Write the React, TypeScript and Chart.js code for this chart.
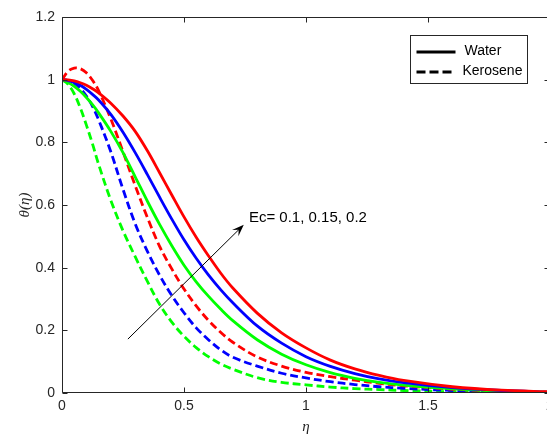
import React, { useEffect, useRef } from "react";
import { Chart, registerables } from "chart.js";

Chart.register(...registerables);

// ---- data ----
const eta = [0, 0.025, 0.05, 0.075, 0.1, 0.125, 0.15, 0.2, 0.25, 0.3, 0.35, 0.4, 0.45, 0.5, 0.55, 0.6, 0.65, 0.7, 0.8, 0.9, 1.0, 1.1, 1.2, 1.3, 1.4, 1.6, 1.8, 2.0];

const waterEc02 = [1.0, 0.999, 0.996, 0.99, 0.982, 0.971, 0.958, 0.925, 0.884, 0.835, 0.773, 0.703, 0.632, 0.562, 0.497, 0.438, 0.383, 0.335, 0.255, 0.192, 0.144, 0.105, 0.077, 0.056, 0.04, 0.02, 0.009, 0.004];
const waterEc015 = [1.0, 0.997, 0.991, 0.982, 0.969, 0.953, 0.935, 0.889, 0.832, 0.767, 0.697, 0.625, 0.555, 0.489, 0.43, 0.377, 0.33, 0.288, 0.214, 0.159, 0.116, 0.085, 0.062, 0.045, 0.033, 0.017, 0.008, 0.003];
const waterEc01 = [1.0, 0.991, 0.979, 0.963, 0.943, 0.92, 0.894, 0.835, 0.767, 0.69, 0.612, 0.538, 0.47, 0.408, 0.355, 0.309, 0.268, 0.231, 0.17, 0.124, 0.09, 0.065, 0.047, 0.034, 0.025, 0.013, 0.006, 0.002];
const keroseneEc02 = [1.0, 1.027, 1.037, 1.035, 1.022, 0.998, 0.965, 0.875, 0.77, 0.662, 0.56, 0.468, 0.396, 0.332, 0.278, 0.232, 0.194, 0.162, 0.115, 0.086, 0.066, 0.052, 0.041, 0.031, 0.023, 0.012, 0.006, 0.002];
const keroseneEc015 = [1.0, 0.997, 0.988, 0.972, 0.948, 0.915, 0.872, 0.77, 0.65, 0.54, 0.452, 0.376, 0.311, 0.256, 0.208, 0.17, 0.138, 0.114, 0.086, 0.063, 0.048, 0.036, 0.027, 0.02, 0.015, 0.008, 0.004, 0.001];
const keroseneEc01 = [1.0, 0.985, 0.955, 0.91, 0.855, 0.795, 0.73, 0.615, 0.518, 0.435, 0.356, 0.283, 0.226, 0.181, 0.145, 0.116, 0.093, 0.076, 0.049, 0.034, 0.026, 0.019, 0.014, 0.011, 0.008, 0.004, 0.002, 0.001];

const xTicks = [0, 0.5, 1, 1.5, 2];
const yTicks = [0, 0.2, 0.4, 0.6, 0.8, 1, 1.2];
const legendLabels = ["Water", "Kerosene"];
const annotationText = "Ec= 0.1, 0.15, 0.2";
const arrowFrom = { x: 0.27, y: 0.172 };
const arrowTo = { x: 0.745, y: 0.537 };
const annotationAt = { x: 0.766, y: 0.558 };

const SANS = '"Liberation Sans", Arial, Helvetica, sans-serif';
const SERIF = '"Liberation Serif", "Times New Roman", serif';
const AXIS_COLOR = "#262626";

const toPoints = (ys: number[]) => eta.map((x, i) => ({ x, y: ys[i] }));
const fmt = (v: number) => String(Number(Number(v).toFixed(2)));

const framePlugin = {
  id: "frame",
  afterDatasetsDraw(chart: any) {
    const { ctx, chartArea: a, scales } = chart;
    const xs = scales.x;
    const ys = scales.y;
    const L = Math.round(a.left) + 0.5;
    const R = Math.round(a.right) - 0.5;
    const T = Math.round(a.top) + 0.5;
    const B = Math.round(a.bottom) - 0.5;
    ctx.save();
    ctx.strokeStyle = AXIS_COLOR;
    ctx.lineWidth = 1;
    ctx.beginPath();
    ctx.rect(L, T, R - L, B - T);
    const tl = 5;
    xTicks.forEach((v) => {
      const px = Math.round(xs.getPixelForValue(v)) + 0.5;
      ctx.moveTo(px, B);
      ctx.lineTo(px, B - tl);
      ctx.moveTo(px, T);
      ctx.lineTo(px, T + tl);
    });
    yTicks.forEach((v) => {
      const py = Math.round(ys.getPixelForValue(v)) + 0.5;
      ctx.moveTo(L, py);
      ctx.lineTo(L + tl, py);
      ctx.moveTo(R, py);
      ctx.lineTo(R - tl, py);
    });
    ctx.stroke();
    ctx.restore();
  },
};

const annotationPlugin = {
  id: "annot",
  afterDraw(chart: any) {
    const { ctx, scales } = chart;
    const xs = scales.x;
    const ys = scales.y;
    const x0 = xs.getPixelForValue(arrowFrom.x);
    const y0 = ys.getPixelForValue(arrowFrom.y);
    const x1 = xs.getPixelForValue(arrowTo.x);
    const y1 = ys.getPixelForValue(arrowTo.y);
    const dx = x1 - x0;
    const dy = y1 - y0;
    const len = Math.hypot(dx, dy);
    const ux = dx / len;
    const uy = dy / len;
    const nx = -uy;
    const ny = ux;
    const HL = 12;
    const HW = 9;
    ctx.save();
    ctx.strokeStyle = "#000";
    ctx.lineWidth = 1;
    ctx.beginPath();
    ctx.moveTo(x0, y0);
    ctx.lineTo(x1 - ux * HL * 0.5, y1 - uy * HL * 0.5);
    ctx.stroke();
    ctx.fillStyle = "#000";
    ctx.beginPath();
    ctx.moveTo(x1, y1);
    ctx.lineTo(x1 - ux * HL + nx * HW / 2, y1 - uy * HL + ny * HW / 2);
    ctx.lineTo(x1 - ux * HL * 0.6, y1 - uy * HL * 0.6);
    ctx.lineTo(x1 - ux * HL - nx * HW / 2, y1 - uy * HL - ny * HW / 2);
    ctx.closePath();
    ctx.fill();

    ctx.font = `15px ${SANS}`;
    ctx.textAlign = "left";
    ctx.textBaseline = "middle";
    ctx.fillText(annotationText, xs.getPixelForValue(annotationAt.x), ys.getPixelForValue(annotationAt.y));

    // legend box
    const a = chart.chartArea;
    const bx = Math.round(a.right) - 139.5;
    const by = Math.round(a.top) + 18.5;
    const bw = 117;
    const bh = 48;
    ctx.fillStyle = "#fff";
    ctx.fillRect(bx, by, bw, bh);
    ctx.strokeStyle = "#262626";
    ctx.lineWidth = 1;
    ctx.strokeRect(bx, by, bw, bh);
    ctx.strokeStyle = "#000";
    ctx.lineWidth = 2.8;
    ctx.lineCap = "butt";
    ctx.beginPath();
    ctx.setLineDash([]);
    ctx.moveTo(bx + 6, by + 16.5);
    ctx.lineTo(bx + 45, by + 16.5);
    ctx.stroke();
    ctx.beginPath();
    ctx.setLineDash([9, 4]);
    ctx.moveTo(bx + 6, by + 36.5);
    ctx.lineTo(bx + 45, by + 36.5);
    ctx.stroke();
    ctx.setLineDash([]);
    ctx.fillStyle = "#000";
    ctx.font = `14px ${SANS}`;
    ctx.textBaseline = "middle";
    ctx.fillText(legendLabels[0], bx + 54, by + 16);
    ctx.fillText(legendLabels[1], bx + 52, by + 36);
    ctx.restore();
  },
};

export default function App() {
  const ref = useRef<HTMLCanvasElement | null>(null);
  useEffect(() => {
    if (!ref.current) return;
    const solid = (label: string, data: number[], color: string) => ({
      label,
      data: toPoints(data),
      borderColor: color,
      backgroundColor: color,
      borderWidth: 2.8,
      pointRadius: 0,
      fill: false,
      tension: 0.35,
    });
    const dashed = (label: string, data: number[], color: string) => ({
      ...solid(label, data, color),
      borderDash: [8, 4],
      borderCapStyle: "butt" as const,
    });
    const chart = new Chart(ref.current, {
      type: "line",
      data: {
        datasets: [
          solid("Water Ec=0.2", waterEc02, "#ff0000"),
          solid("Water Ec=0.15", waterEc015, "#0000ff"),
          solid("Water Ec=0.1", waterEc01, "#00ff00"),
          dashed("Kerosene Ec=0.2", keroseneEc02, "#ff0000"),
          dashed("Kerosene Ec=0.15", keroseneEc015, "#0000ff"),
          dashed("Kerosene Ec=0.1", keroseneEc01, "#00ff00"),
        ],
      },
      options: {
        animation: false,
        responsive: false,
        maintainAspectRatio: false,
        layout: { padding: { left: 0, top: 17, right: 10, bottom: 0 } },
        plugins: { legend: { display: false }, tooltip: { enabled: false } },
        scales: {
          x: {
            type: "linear",
            min: 0,
            max: 2,
            grid: { display: false, drawTicks: false },
            border: { display: false },
            ticks: {
              stepSize: 0.5,
              padding: 5,
              color: AXIS_COLOR,
              maxRotation: 0,
              autoSkip: false,
              font: { size: 14, family: SANS },
              callback: (v: any) => fmt(v),
            },
            title: {
              display: true,
              text: "η",
              color: AXIS_COLOR,
              font: { size: 15, family: SERIF, style: "italic" },
              padding: { top: 0, bottom: 2 },
            },
            afterFit: (s: any) => {
              s.height = 45;
            },
          },
          y: {
            type: "linear",
            min: 0,
            max: 1.2,
            grid: { display: false, drawTicks: false },
            border: { display: false },
            ticks: {
              stepSize: 0.2,
              padding: 7,
              color: AXIS_COLOR,
              autoSkip: false,
              font: { size: 14, family: SANS },
              callback: (v: any) => fmt(v),
            },
            title: {
              display: true,
              text: "θ(η)",
              color: AXIS_COLOR,
              font: { size: 15, family: SERIF, style: "italic" },
              padding: { top: 16, bottom: 0 },
            },
            afterFit: (s: any) => {
              s.width = 62;
            },
          },
        },
      },
      plugins: [framePlugin, annotationPlugin],
    });
    return () => chart.destroy();
  }, []);
  return (
    <div
      style={{
        position: "fixed",
        left: 0,
        top: 0,
        width: 547,
        height: 438,
        overflow: "hidden",
        background: "#fff",
      }}
    >
      <canvas ref={ref} width={560} height={438} style={{ display: "block" }} />
    </div>
  );
}
